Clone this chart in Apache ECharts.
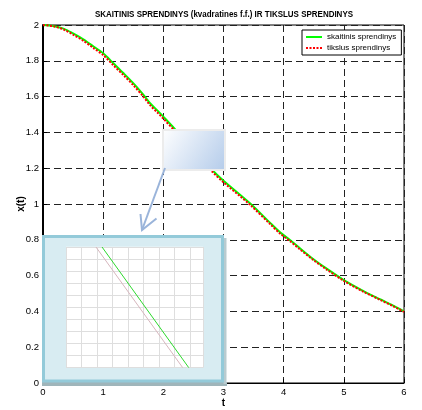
<!DOCTYPE html>
<html><head><meta charset="utf-8">
<script src="https://cdn.jsdelivr.net/npm/echarts@6/dist/echarts.min.js"></script>
<style>html,body{margin:0;padding:0;background:#fff}#c{width:422px;height:410px}</style>
</head><body><div id="c"></div>
<script>
// main chart data
const tValues = [0, 0.17, 0.34, 0.5, 0.67, 0.84, 1.0, 1.17, 1.34, 1.5, 1.67, 1.78, 1.92, 2.0, 2.19, 2.5, 2.8, 3.0, 3.44, 3.78, 3.94, 4.1, 4.27, 4.49, 4.71, 5.0, 5.32, 5.6, 5.82, 6.0];
const numericValues = [2.0, 1.995, 1.98, 1.953, 1.92, 1.88, 1.842, 1.786, 1.73, 1.675, 1.61, 1.563, 1.516, 1.488, 1.42, 1.305, 1.194, 1.13, 1.004, 0.893, 0.842, 0.80, 0.753, 0.693, 0.64, 0.575, 0.515, 0.468, 0.432, 0.40];
const exactValues   = [2.0, 1.993, 1.975, 1.946, 1.912, 1.871, 1.832, 1.775, 1.719, 1.664, 1.599, 1.552, 1.505, 1.477, 1.409, 1.295, 1.185, 1.121, 0.996, 0.886, 0.835, 0.794, 0.747, 0.688, 0.635, 0.571, 0.511, 0.465, 0.429, 0.397];
const seriesNames = ['skaitinis sprendinys', 'tikslus sprendinys'];
const titleText = 'SKAITINIS SPRENDINYS (kvadratines f.f.) IR TIKSLUS SPRENDINYS';
// inset (magnified view) data
const insetY = [10, 0];
const insetGreenX = [2.32, 7.90];
const insetPinkX = [1.93, 7.51];

const FONT = '"Liberation Sans", Arial, sans-serif';
const pairs = (xs, ys) => xs.map((x, i) => [x, ys[i]]);

const chart = echarts.init(document.getElementById('c'));
chart.setOption({
  animation: false,
  backgroundColor: '#fff',
  legend: {
    data: seriesNames, orient: 'vertical', left: 302, top: 30,
    padding: [3, 5, 3, 3], itemGap: 3, itemWidth: 16, itemHeight: 10,
    backgroundColor: '#fff', borderColor: '#000', borderWidth: 1, borderRadius: 0,
    itemStyle: { color: 'rgba(0,0,0,0)', borderWidth: 0 },
    textStyle: { fontFamily: FONT, fontSize: 8, color: '#000' }
  },
  grid: [
    { left: 43, top: 25, width: 361, height: 358, show: true, borderColor: '#000', borderWidth: 1,
      backgroundColor: '#fff', outerBoundsMode: 'none', containLabel: false },
    { left: 66, top: 247, width: 137, height: 120.6, show: false, outerBoundsMode: 'none', containLabel: false }
  ],
  xAxis: [
    { type: 'value', gridIndex: 0, min: 0, max: 6, interval: 1,
      axisLine: { show: true, lineStyle: { color: '#000', width: 1 } },
      axisTick: { inside: true, length: 4, lineStyle: { color: '#000' } },
      axisLabel: { color: '#000', fontSize: 9.5, margin: 4, fontFamily: FONT },
      splitLine: { show: true, lineStyle: { color: '#222', type: [7, 4], width: 1 } },
      name: 't', nameLocation: 'middle', nameGap: 15, nameMoveOverlap: false,
      nameTextStyle: { fontWeight: 'bold', fontSize: 10, color: '#000', fontFamily: FONT } },
    { type: 'value', gridIndex: 1, min: 0, max: 8.82, interval: 1, z: 20,
      axisLine: { show: false }, axisTick: { show: false }, axisLabel: { show: false },
      splitLine: { show: true, lineStyle: { color: '#dedede', width: 1 } } }
  ],
  yAxis: [
    { type: 'value', gridIndex: 0, min: 0, max: 2, interval: 0.2,
      axisLine: { show: true, lineStyle: { color: '#000', width: 2 } },
      axisTick: { show: true, inside: true, length: 4, lineStyle: { color: '#000' } },
      axisLabel: { color: '#000', fontSize: 9.5, margin: 4, fontFamily: FONT },
      splitLine: { show: true, lineStyle: { color: '#222', type: [7, 4], width: 1 } },
      name: 'x(t)', nameLocation: 'middle', nameGap: 17, nameRotate: 90, nameMoveOverlap: false,
      nameTextStyle: { fontWeight: 'bold', fontSize: 10, color: '#000', fontFamily: FONT } },
    { type: 'value', gridIndex: 1, min: 0, max: 10, interval: 1, z: 20,
      axisLine: { show: false }, axisTick: { show: false }, axisLabel: { show: false },
      splitLine: { show: true, lineStyle: { color: '#dedede', width: 1 } } }
  ],
  series: [
    { name: seriesNames[0], type: 'line', xAxisIndex: 0, yAxisIndex: 0, data: pairs(tValues, numericValues),
      smooth: 0.3, symbol: 'none', z: 3, color: '#00ff00',
      lineStyle: { color: '#00ff00', width: 2 } },
    { name: seriesNames[1], type: 'line', xAxisIndex: 0, yAxisIndex: 0, data: pairs(tValues, exactValues),
      smooth: 0.3, symbol: 'none', z: 4, color: '#ff0000',
      lineStyle: { color: '#ff0000', width: 2, type: [2, 1.5] } },
    { type: 'line', xAxisIndex: 1, yAxisIndex: 1, data: pairs(insetPinkX, insetY),
      symbol: 'none', z: 21, silent: true, lineStyle: { color: '#d6b6bd', width: 1 } },
    { type: 'line', xAxisIndex: 1, yAxisIndex: 1, data: pairs(insetGreenX, insetY),
      symbol: 'none', z: 21, silent: true, lineStyle: { color: '#2ed82e', width: 1 } }
  ],
  graphic: [
    // title (horizontally condensed like the reference)
    { type: 'text', x: 224, y: 14, scaleX: 0.84, z: 30,
      style: { text: titleText, font: 'bold 9.5px "Liberation Sans", Arial, sans-serif',
        fill: '#000', align: 'center', verticalAlign: 'middle' } },
    // source (magnified) region marker
    { type: 'rect', z: 10, shape: { x: 163, y: 130, width: 62, height: 40 },
      style: { fill: { type: 'linear', x: 0, y: 0, x2: 1, y2: 1,
        colorStops: [{ offset: 0, color: '#ffffff' }, { offset: 1, color: '#b3cbea' }] },
        stroke: '#ececec', lineWidth: 2 } },
    // arrow
    { type: 'polyline', z: 10, shape: { points: [[165, 168], [142, 230]] },
      style: { stroke: '#9ab4da', lineWidth: 2, fill: null } },
    { type: 'polyline', z: 10, shape: { points: [[140.5, 214], [142, 230], [156.5, 218.5]] },
      style: { stroke: '#9ab4da', lineWidth: 2, fill: null } },
    // inset shadow strips
    { type: 'rect', z: 10, shape: { x: 42, y: 382, width: 185, height: 4 }, style: { fill: '#9fb5ba' } },
    { type: 'rect', z: 10, shape: { x: 223.5, y: 238, width: 3, height: 146 }, style: { fill: '#b9cbcf' } },
    // inset box
    { type: 'rect', z: 11, shape: { x: 43.5, y: 236.5, width: 179, height: 144.5 },
      style: { fill: '#d8ecf2', stroke: '#93cad9', lineWidth: 3 } },
    { type: 'rect', z: 12, shape: { x: 66, y: 246.7, width: 137, height: 120.6 },
      style: { fill: '#ffffff' } }
  ]
});
</script>
</body></html>
